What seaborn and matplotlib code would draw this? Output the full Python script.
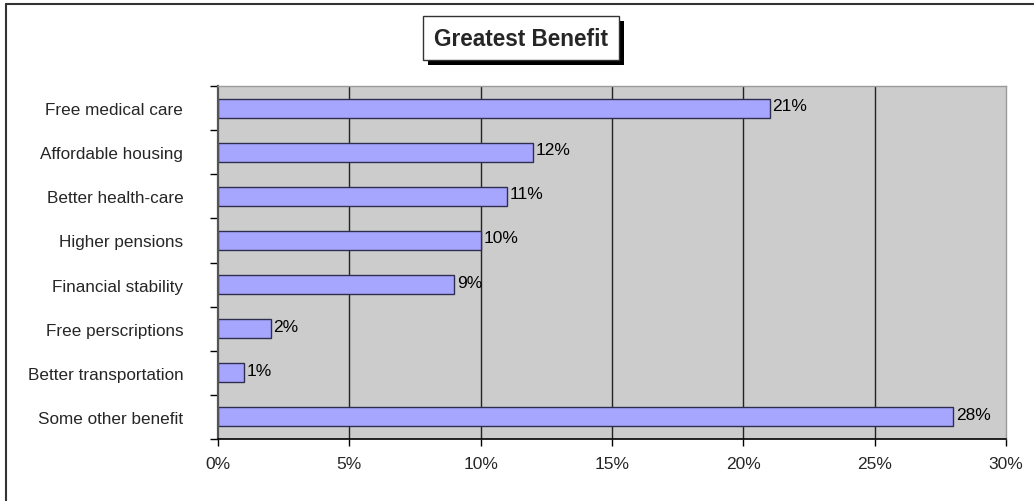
import matplotlib
matplotlib.use("Agg")
import matplotlib.pyplot as plt
from matplotlib.patches import Rectangle
from matplotlib.lines import Line2D
import seaborn as sns
import pandas as pd

# Survey results: greatest benefit named by respondents
categories = [
    "Free medical care",
    "Affordable housing",
    "Better health-care",
    "Higher pensions",
    "Financial stability",
    "Free perscriptions",
    "Better transportation",
    "Some other benefit",
]
shares = [21, 12, 11, 10, 9, 2, 1, 28]
x_ticks = [0, 5, 10, 15, 20, 25, 30]
x_tick_labels = ["0%", "5%", "10%", "15%", "20%", "25%", "30%"]

df = pd.DataFrame({"benefit": categories, "share": shares})

sns.set_theme(style="white")
plt.rcParams["font.family"] = ["Liberation Sans", "DejaVu Sans"]

fig = plt.figure(figsize=(10.34, 5.02), dpi=100)
ax = fig.add_axes([218 / 1034, 1 - 440 / 502, (1006 - 218) / 1034, (440 - 87) / 502])
ax.set_facecolor("#CCCCCC")

sns.barplot(data=df, x="share", y="benefit", orient="h", color="#A6A6FF",
            saturation=1, edgecolor="#2E2E4E", linewidth=1.0, width=0.43, ax=ax)

for i, v in enumerate(shares):
    ax.annotate(f"{v}%", xy=(v, i), xytext=(2, 1.8), textcoords="offset points",
                ha="left", va="center", fontsize=12.5, color="black")

ax.set_xlim(0, 30)
ax.set_ylim(len(categories) - 0.5, -0.5)
ax.set_xticks(x_ticks)
ax.set_xticklabels(x_tick_labels, fontsize=12.5)
ax.set_xlabel("")
ax.set_ylabel("")
for x in x_ticks[1:-1]:
    ax.axvline(x, color="#222222", linewidth=1.0, zorder=0.5)

# category labels sit at centers, tick marks fall between categories
ax.set_yticks(range(len(categories)))
ax.set_yticklabels(categories, fontsize=12.3)
ax.tick_params(axis="y", which="major", length=0, pad=25)
ax.set_yticks([i - 0.5 for i in range(len(categories) + 1)], minor=True)
ax.tick_params(axis="y", which="minor", length=6, width=1, color="black", direction="out", left=True)
ax.tick_params(axis="x", which="major", length=5, width=1, color="black", direction="out",
               bottom=True, pad=7)

for side in ["top", "right"]:
    ax.spines[side].set_color("#9A9A9A")
    ax.spines[side].set_linewidth(1)
ax.spines["left"].set_color("#555555")
ax.spines["left"].set_linewidth(1.6)
ax.spines["bottom"].set_color("black")
ax.spines["bottom"].set_linewidth(1.2)

# Title in a boxed frame with a drop shadow
W, H = 1034, 502
bx0, by0, bx1, by1 = 423, 17, 619, 61
shadow = Rectangle(((bx0 + 5) / W, 1 - (by1 + 5) / H), (bx1 - bx0) / W, (by1 - by0) / H,
                   transform=fig.transFigure, facecolor="black", edgecolor="none", zorder=1)
box = Rectangle((bx0 / W, 1 - by1 / H), (bx1 - bx0) / W, (by1 - by0) / H,
                transform=fig.transFigure, facecolor="white", edgecolor="#333333",
                linewidth=1, zorder=2)
fig.patches.extend([shadow, box])
fig.text((bx0 + bx1) / 2 / W, 1 - (by0 + by1) / 2 / H, "Greatest Benefit",
         ha="center", va="center", fontsize=16.3, fontweight="bold", zorder=3)

# Outer chart frame (top and left edges)
fig.add_artist(Line2D([6 / W, 1], [1 - 5 / H, 1 - 5 / H], transform=fig.transFigure,
                      color="#333333", linewidth=1.5))
fig.add_artist(Line2D([6 / W, 6 / W], [0, 1 - 5 / H], transform=fig.transFigure,
                      color="#333333", linewidth=1.5))

fig.savefig("out.png", dpi=100)
